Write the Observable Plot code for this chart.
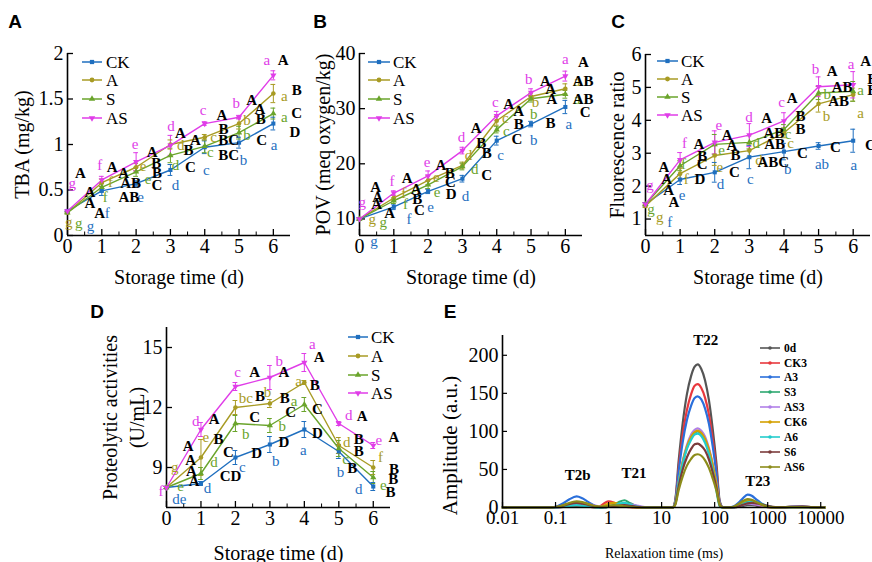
<!DOCTYPE html>
<html><head><meta charset="utf-8">
<script src="https://cdn.jsdelivr.net/npm/d3@7"></script>
<script src="https://cdn.jsdelivr.net/npm/@observablehq/plot@0.6"></script>
<style>
body{margin:0;background:#fff;}
#wrap{position:relative;width:872px;height:562px;overflow:hidden;background:#fff;}
.panel{position:absolute;}
.plab{position:absolute;font-family:"Liberation Sans",Arial,sans-serif;font-weight:bold;font-size:19px;transform:translate(-50%,-50%);}
svg{overflow:visible}
</style></head><body><div id="wrap"></div>
<script>
// ---------- shared ----------
const days = [0,1,2,3,4,5,6];
const keys = ["CK","A","S","AS"];
const colorOf = {CK:"#1f6fbf", A:"#a89b24", S:"#6aa42b", AS:"#e03de8"};
const symbolOf = {CK:"square", A:"circle", S:"triangle", AS:"triangle"};

// ---------- A: TBA ----------
const tbaCK = [0.27,0.49,0.57,0.72,0.97,1.02,1.23];
const tbaA  = [0.25,0.58,0.75,1.00,1.08,1.23,1.56];
const tbaS  = [0.25,0.53,0.70,0.88,0.98,1.13,1.34];
const tbaAS = [0.27,0.61,0.81,0.99,1.23,1.30,1.76];
const tbaErrCK = [0.01,0.05,0.03,0.06,0.07,0.06,0.07];
const tbaErrA  = [0.01,0.04,0.04,0.05,0.03,0.06,0.10];
const tbaErrS  = [0.01,0.04,0.05,0.08,0.07,0.07,0.06];
const tbaErrAS = [0.01,0.04,0.10,0.11,0.02,0.02,0.05];
const tbaTicks = [0,0.5,1,1.5,2];
const tbaLower = [
 ["AS",0.14,0.57,"g"],["AS",0.94,0.77,"f"],["AS",1.97,1.0,"e"],["AS",3.02,1.2,"d"],["AS",3.95,1.38,"c"],["AS",4.92,1.45,"b"],["AS",5.81,1.93,"a"],
 ["A",0.04,0.15,"g"],["A",1.25,0.59,"f"],["A",2.2,0.76,"e"],["A",3.3,0.99,"d"],["A",4.26,1.08,"c"],["A",5.23,1.27,"b"],["A",6.32,1.53,"a"],
 ["S",0.33,0.13,"g"],["S",1.1,0.42,"f"],["S",2.35,0.62,"e"],["S",3.15,0.77,"d"],["S",4.16,0.92,"c"],["S",5.23,1.1,"b"],["S",6.32,1.3,"a"],
 ["CK",0.67,0.1,"g"],["CK",1.16,0.24,"f"],["CK",2.13,0.42,"e"],["CK",3.15,0.55,"d"],["CK",4.05,0.72,"c"],["CK",5.13,0.83,"b"],["CK",6.02,0.99,"a"]
];
const tbaUpper = [
 [0.38,0.68,"A"],[0.65,0.48,"A"],[0.65,0.35,"A"],[0.94,0.24,"A"],[1.3,0.75,"A"],[1.64,0.68,"A"],[1.84,0.57,"AB"],[1.79,0.42,"AB"],
 [2.47,0.92,"A"],[2.59,0.79,"B"],[2.61,0.68,"B"],[2.61,0.55,"C"],[3.29,1.12,"A"],[3.73,1.05,"A"],[3.53,0.94,"B"],[3.58,0.75,"C"],
 [4.5,1.32,"A"],[4.55,1.17,"B"],[4.7,1.05,"BC"],[4.7,0.88,"BC"],[5.37,1.49,"A"],[5.61,1.39,"A"],[5.63,1.28,"B"],[5.66,1.05,"C"],
 [6.29,1.93,"A"],[6.68,1.6,"B"],[6.68,1.34,"C"],[6.63,1.14,"D"]
];

// ---------- B: POV ----------
const povCK = [10,12.2,15.0,17.3,24.2,27.2,30.3];
const povA  = [10,13.8,17.0,19.7,27.8,32.2,33.6];
const povS  = [10,13.3,16.2,19.5,26.2,31.8,32.6];
const povAS = [10,14.7,17.8,22.4,28.7,32.9,35.9];
const povErrCK = [0.2,0.5,0.4,0.6,0.8,0.5,1.2];
const povErrA  = [0.2,0.5,0.8,0.6,0.8,0.6,0.9];
const povErrS  = [0.2,0.5,0.7,0.6,0.6,0.6,0.7];
const povErrAS = [0.2,0.4,0.9,0.6,0.8,0.7,0.9];
const povTicks = [10,20,30,40];
const povLower = [
 ["AS",0.08,13.0,"g"],["AS",0.95,16.9,"f"],["AS",1.97,20.3,"e"],["AS",2.97,24.8,"d"],["AS",3.96,31.2,"c"],["AS",4.93,35.3,"b"],["AS",6.0,39.0,"a"],
 ["A",0.37,10,"g"],["A",1.29,14.6,"f"],["A",2.24,17.5,"e"],["A",3.18,21.5,"d"],["A",4.25,28.3,"c"],["A",5.13,31.1,"b"],["A",6.34,35,"a"],
 ["S",0.69,9.4,"g"],["S",1.34,12.7,"f"],["S",2.26,14.8,"e"],["S",3.36,19.1,"d"],["S",4.28,26,"c"],["S",5.08,29,"b"],["S",6.34,31.7,"a"],
 ["CK",0.42,6,"g"],["CK",1.44,10,"f"],["CK",2.07,12.2,"e"],["CK",3.09,14.2,"d"],["CK",4.11,21.6,"c"],["CK",5.08,24.2,"b"],["CK",6.1,27.1,"a"]
];
const povUpper = [
 [0.47,15.7,"A"],[0.53,13.9,"A"],[0.5,12.6,"A"],[0.88,11.0,"A"],[1.39,17.4,"A"],[1.65,15.4,"A"],[1.68,13.6,"B"],[1.75,11.5,"C"],
 [2.37,19.8,"A"],[2.63,18.3,"B"],[2.65,16.6,"C"],[2.67,14.5,"D"],[3.4,26.5,"A"],[3.55,23.7,"B"],[3.71,21.9,"B"],[3.71,18.0,"C"],
 [4.35,30.8,"A"],[4.64,29.6,"A"],[4.64,27.2,"B"],[4.59,24.5,"C"],[5.42,34.9,"A"],[5.57,33.5,"A"],[5.61,31.7,"A"],[5.57,27.3,"B"],
 [6.53,38.4,"A"],[6.52,35.0,"AB"],[6.52,31.8,"AB"],[6.58,29.3,"C"]
];

// ---------- C: Fluorescence ratio ----------
const frCK = [1.45,2.2,2.42,2.88,3.05,3.22,3.38];
const frA  = [1.4,2.38,2.93,3.08,3.62,4.5,4.78];
const frS  = [1.45,2.62,3.27,3.33,3.72,4.83,4.88];
const frAS = [1.45,2.8,3.33,3.55,3.98,5.02,5.08];
const frErrCK = [0.05,0.15,0.3,0.35,0.25,0.1,0.35];
const frErrA  = [0.05,0.15,0.3,0.2,0.15,0.25,0.2];
const frErrS  = [0.05,0.15,0.3,0.2,0.15,0.2,0.3];
const frErrAS = [0.05,0.22,0.35,0.35,0.25,0.3,0.4];
const frTicks = [1,2,3,4,5,6];
const frLower = [
 ["AS",0.13,2.02,"g"],["AS",1.13,3.32,"f"],["AS",2.12,3.86,"e"],["AS",2.99,4.11,"d"],["AS",3.93,4.54,"c"],["AS",4.91,5.54,"b"],["AS",5.94,5.72,"a"],
 ["A",0.41,1.07,"g"],["A",1.18,2.22,"f"],["A",2.15,2.58,"e"],["A",3.28,2.79,"d"],["A",4.19,3.3,"c"],["A",5.23,4.13,"b"],["A",6.21,4.21,"a"],
 ["S",0.16,1.3,"g"],["S",1.1,2.68,"f"],["S",2.2,3.09,"e"],["S",3.2,3.3,"d"],["S",4.12,3.58,"c"],["S",5.25,4.78,"b"],["S",6.21,4.91,"a"],
 ["CK",0.7,0.9,"f"],["CK",1.06,1.74,"e"],["CK",2.17,2.07,"d"],["CK",3.03,2.22,"c"],["CK",4.11,2.53,"b"],["CK",5.1,2.68,"ab"],["CK",6.02,2.63,"a"]
];
const frUpper = [
 [0.53,2.58,"A"],[0.61,2.22,"A"],[0.67,1.87,"A"],[0.82,1.51,"A"],[1.54,3.28,"A"],[1.64,2.91,"B"],[1.64,2.66,"C"],[1.57,2.22,"D"],
 [2.36,3.55,"A"],[2.5,3.24,"A"],[2.6,2.94,"B"],[2.57,2.43,"C"],[3.5,4.06,"A"],[3.71,3.6,"AB"],[3.73,3.28,"AB"],[3.69,2.73,"ABC"],
 [4.24,4.67,"A"],[4.48,4.13,"B"],[4.48,3.72,"B"],[4.53,2.99,"C"],[5.39,5.49,"A"],[5.68,5.01,"AB"],[5.58,4.57,"AB"],[5.49,3.19,"C"],
 [6.36,5.8,"A"],[6.55,5.26,"B"],[6.55,4.93,"B"],[6.5,3.24,"C"]
];

// ---------- D: Proteolytic activities ----------
const paCK = [8.0,8.2,9.5,10.15,10.9,9.8,8.05];
const paA  = [8.0,9.5,12.0,12.2,13.25,10.1,9.0];
const paS  = [8.0,8.7,11.2,11.1,12.15,9.95,8.5];
const paAS = [8.0,10.9,13.05,13.5,14.25,11.2,10.1];
const paErrCK = [0.05,0.1,0.35,0.4,0.4,0.35,0.2];
const paErrA  = [0.05,0.9,0.35,0.2,0.1,0.4,0.35];
const paErrS  = [0.05,0.3,0.4,0.35,0.35,0.4,0.3];
const paErrAS = [0.05,0.35,0.2,0.6,0.45,0.1,0.15];
const paTicks = [9,12,15];
const paLower = [
 ["AS",-0.16,7.83,"f"],["AS",0.85,11.3,"d"],["AS",2.06,13.75,"c"],["AS",3.27,14.3,"b"],["AS",4.23,15.17,"a"],["AS",5.29,11.63,"d"],["AS",6.16,10.37,"e"],
 ["A",0.24,9.03,"g"],["A",1.14,10.5,"e"],["A",2.3,12.45,"bc"],["A",2.93,12.75,"b"],["A",3.83,13.33,"a"],["A",5.23,10.25,"d"],["A",6.21,9.5,"f"],
 ["S",0.41,8.08,"e"],["S",1.38,9.25,"d"],["S",2.3,10.67,"b"],["S",3.36,11.08,"b"],["S",3.7,12.33,"a"],["S",5.2,9.42,"c"],["S",6.29,8.13,"e"],
 ["CK",0.37,7.42,"de"],["CK",1.19,7.97,"d"],["CK",2.2,9.0,"c"],["CK",3.17,9.33,"b"],["CK",3.97,9.87,"a"],["CK",5.05,8.75,"b"],["CK",5.58,7.92,"d"]
];
const paUpper = [
 [0.63,10.08,"A"],[0.7,9.37,"A"],[0.72,8.83,"A"],[0.8,8.3,"A"],[1.38,11.42,"A"],[1.51,10.42,"B"],[1.8,9.75,"C"],[1.86,8.58,"CD"],
 [2.56,13.75,"A"],[2.71,12.58,"B"],[2.56,11.5,"C"],[2.62,9.7,"D"],[3.41,13.75,"A"],[3.43,12.47,"B"],[3.6,11.75,"C"],[3.41,10.25,"D"],
 [4.43,14.5,"A"],[4.3,13.13,"B"],[4.38,11.92,"C"],[4.38,10.7,"D"],[5.68,11.58,"A"],[5.58,10.42,"B"],[5.58,9.8,"B"],[5.39,8.97,"B"],
 [6.6,10.5,"A"],[6.6,8.92,"B"],[6.58,8.42,"B"],[6.5,7.75,"B"]
];

// ---------- E: T2 relaxation ----------
const t2Time = [0.01,0.08,0.11,0.14,0.18,0.25,0.32,0.42,0.55,0.7,0.85,1.0,1.25,1.6,2.0,2.5,3.2,4.2,6,10,16,
  18,21,25,30,36,42,48,56,66,78,92,108,125,145,186,230,280,340,417,500,600,740,900,1100,1400,2000,3000,4500,7000,12000];
const t2Names = ["0d","CK3","A3","S3","AS3","CK6","A6","S6","AS6"];
const t2Colors = ["#555555","#e8383d","#2a6fdb","#2ca870","#b07fe8","#d4a000","#22cccc","#7b3b3b","#8c8c1a"];
const t2_0d  = [0,0, 0.3,0.8,1.3,1.8,1.5,1,0.5, 0.5, 0.8,1.2,1.8,2,1.8,1.2,0.6,0.2,0, 0,0, 9,62,111,149,173,185,188,182,167,141,103,58,8, 0,0, 0.2,1,2,3,3,2.5,1.5,0.8,0.3,0.2,0.5,1.2,1.5,0.5, 0];
const t2_CK3 = [0,0, 0.3,1,1.8,2.5,2,1.2,0.5, 2, 6,8,6.5,3,1,0.3,0,0,0, 0,0, 8,53,96,128,149,160,162,157,144,122,89,50,6, 0,0, 0.5,2.5,4.5,6,5.5,4,2.5,1.2,0.4,0.2,0.2,0.5,0.5,0.2, 0];
const t2_A3  = [0,0, 2,5.5,10.5,14.5,12,7,2.5, 0.5, 0.5,0.8,1.5,2.5,3.5,3.5,2,0.5,0, 0,0, 7,48,86,115,134,144,146,142,130,110,80,45,6, 0,0, 1.5,6,12,17,15.5,11,6,2.5,0.8,0.3,0.3,0.8,0.8,0.3, 0];
const t2_S3  = [0,0, 0.3,1,2,3,2.5,1.5,0.5, 0.2, 0.5,1,3,7.5,9.5,6,2.5,0.5,0, 0,0, 5,33,59,79,92,98,100,97,89,75,55,31,4, 0,0, 0.5,2.5,5.5,8,8.5,7,4.5,2.2,0.8,0.3,0.3,0.5,0.5,0.2, 0];
const t2_AS3 = [0,0, 0.5,1.5,3.5,5,5,4,2.5, 1.2, 0.8,1,1.8,2.8,3.8,4,3,1.2,0, 0,0, 5,34,61,82,96,102,104,101,93,78,57,32,4, 0,0, 0.5,2,3.5,5,4.8,4,2.8,1.5,0.5,0.2,0.3,0.8,0.8,0.3, 0];
const t2_CK6 = [0,0, 1,2.5,5,7,6,4,1.5, 1, 3,5,6,4.5,2.5,1,0.3,0,0, 0,0, 5,33,60,80,93,99,101,98,90,76,56,31,4, 0,0, 1,4,7.5,10,9.5,7,4,1.8,0.5,0.2,0.3,0.5,0.5,0.2, 0];
const t2_A6  = [0,0, 0.5,1.2,2.2,3,2.5,1.5,0.5, 0.2, 0.3,1,2.5,5,6,4,1.5,0.3,0, 0,0, 5,32,57,77,89,96,97,94,85,70,49,22,1, 0,0, 0.3,1.5,4,6.5,7.5,7,5,3,1.2,0.4,0.4,0.6,0.6,0.2, 0];
const t2_S6  = [0,0, 1,2.5,4.5,6,5,3.5,1.5, 0.5, 0.5,0.8,1.5,2.5,3,2.2,1.2,0.3,0, 0,0, 4,28,50,66,77,83,84,81,75,63,46,26,3, 0,0, 0.3,1.2,3.5,5.5,6,5.5,4.5,3,1.5,0.6,0.5,1,1.2,0.4, 0];
const t2_AS6 = [0,0, 1,3,6,8,7,4.5,2, 0.8, 1.5,2.5,3,2.5,1.5,0.8,0.3,0,0, 0,0, 3,23,41,55,64,69,70,68,62,52,38,22,3, 0,0, 1,4.5,8.5,11,10,7.5,4.5,2,0.6,0.2,0.3,0.5,0.5,0.2, 0];
const t2Series = [t2_0d,t2_CK3,t2_A3,t2_S3,t2_AS3,t2_CK6,t2_A6,t2_S6,t2_AS6];
const t2Ticks = [0.01,0.1,1,10,100,1000,10000];
const ampTicks = [0,50,100,150,200];
const t2PeakLabels = [[0.26,42,"T2b"],[3.0,45,"T21"],[68,220,"T22"],[650,34.6,"T23"]];

// ---------- drawing ----------
const wrap = document.getElementById("wrap");
const FONT = "Liberation Serif, Times New Roman, Times, serif";

function place(el, left, top) {
  const d = document.createElement("div");
  d.className = "panel"; d.style.left = left + "px"; d.style.top = top + "px";
  d.appendChild(el); wrap.appendChild(d);
}

function linePanel(o) {
  const innerW = o.width - o.ml - o.mr, innerH = o.height - o.mt - o.mb;
  const rows = [];
  keys.forEach(k => o.vals[k].forEach((v, i) => rows.push({k, x: days[i], y: v, e: o.errs[k][i]})));
  const half = days.slice(0, -1).map(d => d + 0.5);
  const col = d => colorOf[d.k];
  const marks = [
    Plot.ruleX([0], {strokeWidth: 1.6}),
    Plot.ruleY([o.yDomain[0]], {strokeWidth: 1.6}),
    Plot.tickX(days, {x: d => d, insetTop: innerH - 6, strokeWidth: 1.3}),
    Plot.tickX(half, {x: d => d, insetTop: innerH - 3.5}),
    Plot.tickY(o.yTicks, {y: d => d, insetRight: innerW - 6, strokeWidth: 1.3}),
    Plot.axisX({ticks: days, tickSize: 0, tickPadding: 3, fontSize: 20, tickFormat: d => String(d), label: null}),
    Plot.axisY({ticks: o.yTicks, tickSize: 0, tickPadding: 4, fontSize: 20, tickFormat: d => String(d), label: null}),
    Plot.text([o.yTitle], {text: d => d, frameAnchor: "left", textAnchor: "middle", lineAnchor: "middle", rotate: -90, dx: o.ytDx, dy: o.ytDy || 0, fontSize: 20, lineHeight: o.lh || 1}),
    Plot.text(["Storage time (d)"], {text: d => d, frameAnchor: "bottom", textAnchor: "middle", lineAnchor: "middle", dy: o.xtDy, fontSize: 20}),
    Plot.ruleX(rows, {x: "x", y1: d => d.y - d.e, y2: d => d.y + d.e, stroke: col, strokeWidth: 1}),
    Plot.ruleY(rows, {y: d => d.y + d.e, x1: d => d.x - 0.07, x2: d => d.x + 0.07, stroke: col, strokeWidth: 1}),
    Plot.ruleY(rows, {y: d => d.y - d.e, x1: d => d.x - 0.07, x2: d => d.x + 0.07, stroke: col, strokeWidth: 1}),
    Plot.line(rows, {x: "x", y: "y", z: "k", stroke: col, strokeWidth: 1.4}),
    ...keys.map(k => Plot.dot(rows.filter(r => r.k === k), {x: "x", y: "y", symbol: symbolOf[k], fill: colorOf[k], r: 2.3, rotate: k === "AS" ? 180 : 0})),
    Plot.text(o.lower, {x: d => d[1], y: d => d[2], text: d => d[3], fill: d => colorOf[d[0]], fontSize: 15}),
    Plot.text(o.upper, {x: d => d[0], y: d => d[1], text: d => d[2], fill: "black", fontWeight: "bold", fontSize: 15})
  ];
  const svg = Plot.plot({
    width: o.width, height: o.height, marginLeft: o.ml, marginRight: o.mr, marginTop: o.mt, marginBottom: o.mb,
    x: {domain: [0, 6.5]}, y: {domain: o.yDomain},
    color: {type: "identity"},
    style: {fontFamily: FONT, fontSize: "16px", background: "transparent", overflow: "visible", color: "black", maxWidth: "none"},
    marks
  });
  place(svg, o.left, o.top);
}

linePanel({left: 0, top: 0, width: 300, height: 290, ml: 67, mr: 10, mt: 53, mb: 55,
  yDomain: [0, 2], yTicks: tbaTicks, yTitle: "TBA (mg/kg)", ytDx: -45, xtDy: 42,
  vals: {CK: tbaCK, A: tbaA, S: tbaS, AS: tbaAS}, errs: {CK: tbaErrCK, A: tbaErrA, S: tbaErrS, AS: tbaErrAS},
  lower: tbaLower, upper: tbaUpper});
linePanel({left: 290, top: 0, width: 300, height: 290, ml: 69, mr: 8, mt: 53, mb: 55,
  yDomain: [7, 40], yTicks: povTicks, yTitle: "POV (meq oxygen/kg)", ytDx: -36, xtDy: 42,
  vals: {CK: povCK, A: povA, S: povS, AS: povAS}, errs: {CK: povErrCK, A: povErrA, S: povErrS, AS: povErrAS},
  lower: povLower, upper: povUpper});
linePanel({left: 580, top: 0, width: 292, height: 290, ml: 65, mr: 2, mt: 54, mb: 55,
  yDomain: [0.5, 6], yTicks: frTicks, yTitle: "Fluorescence ratio", ytDx: -28, xtDy: 42,
  vals: {CK: frCK, A: frA, S: frS, AS: frAS}, errs: {CK: frErrCK, A: frErrA, S: frErrS, AS: frErrAS},
  lower: frLower, upper: frUpper});
linePanel({left: 0, top: 290, width: 430, height: 272, ml: 166, mr: 40, mt: 37, mb: 55,
  yDomain: [7, 16], yTicks: paTicks, yTitle: "Proteolytic activities\n(U/mL)", ytDx: -45, lh: 1.35, xtDy: 46,
  vals: {CK: paCK, A: paA, S: paS, AS: paAS}, errs: {CK: paErrCK, A: paErrA, S: paErrS, AS: paErrAS},
  lower: paLower, upper: paUpper});

// Panel E
(function () {
  const W = 442, H = 272, ml = 72, mr = 47, mt = 45, mb = 55;
  const innerW = W - ml - mr, innerH = H - mt - mb;
  const rows = [];
  t2Names.forEach((n, s) => t2Series[s].forEach((v, i) => rows.push({n, c: t2Colors[s], x: t2Time[i], y: v})));
  const svg = Plot.plot({
    width: W, height: H, marginLeft: ml, marginRight: mr, marginTop: mt, marginBottom: mb,
    x: {type: "log", domain: [0.01, 12300]}, y: {domain: [0, 226]},
    color: {type: "identity"},
    style: {fontFamily: FONT, fontSize: "16px", background: "transparent", overflow: "visible", color: "black", maxWidth: "none"},
    marks: [
      Plot.line(rows, {x: "x", y: "y", z: "n", stroke: "c", strokeWidth: 2.2, curve: "monotone-x"}),
      Plot.ruleX([0.01], {strokeWidth: 1.6}),
      Plot.ruleY([0], {strokeWidth: 1.6}),
      Plot.tickX(t2Ticks, {x: d => d, insetTop: innerH - 5, strokeWidth: 1.2}),
      Plot.tickY(ampTicks, {y: d => d, insetRight: innerW - 5, strokeWidth: 1.2}),
      Plot.axisX({ticks: t2Ticks, tickSize: 0, tickPadding: 3, fontSize: 19, tickFormat: d => String(d), label: null}),
      Plot.axisY({ticks: ampTicks, tickSize: 0, tickPadding: 4, fontSize: 20, tickFormat: d => String(d), label: null}),
      Plot.text(["Amplitude (a.u.)"], {text: d => d, frameAnchor: "left", textAnchor: "middle", lineAnchor: "middle", rotate: -90, dx: -52, dy: 24, fontSize: 21}),
      Plot.text(["Relaxation time (ms)"], {text: d => d, frameAnchor: "bottom", textAnchor: "middle", lineAnchor: "middle", dy: 46, fontSize: 14}),
      Plot.text(t2PeakLabels, {x: d => d[0], y: d => d[1], text: d => d[2], fontWeight: "bold", fontSize: 15})
    ]
  });
  place(svg, 430, 290);
})();

// ---------- legends (overlay) ----------
const ov = d3.select(wrap).append("svg").attr("width", 872).attr("height", 562)
  .style("position", "absolute").style("left", 0).style("top", 0).style("pointer-events", "none");
const symType = {CK: d3.symbolSquare, A: d3.symbolCircle, S: d3.symbolTriangle, AS: d3.symbolTriangle};
function legend4(x0, x1, tx, ys) {
  keys.forEach((k, i) => {
    const g = ov.append("g");
    g.append("line").attr("x1", x0).attr("x2", x1).attr("y1", ys[i]).attr("y2", ys[i]).attr("stroke", colorOf[k]).attr("stroke-width", 1.5);
    g.append("path").attr("d", d3.symbol().type(symType[k]).size(18)())
      .attr("transform", `translate(${(x0 + x1) / 2},${ys[i]}) rotate(${k === "AS" ? 180 : 0})`).attr("fill", colorOf[k]);
    g.append("text").attr("x", tx).attr("y", ys[i]).attr("dy", "0.35em").attr("font-family", FONT).attr("font-size", 17).text(k);
  });
}
legend4(82, 102, 106, [62, 80, 99, 118]);
legend4(368, 390, 393, [62, 80, 99, 118]);
legend4(657, 678, 681, [61, 79, 97, 115]);
legend4(348, 368, 371, [337, 356, 375, 393]);
const eYs = [348, 363, 377, 392, 407, 422, 437, 452, 467];
t2Names.forEach((n, i) => {
  ov.append("line").attr("x1", 760).attr("x2", 780).attr("y1", eYs[i]).attr("y2", eYs[i]).attr("stroke", t2Colors[i]).attr("stroke-width", 1.6);
  ov.append("circle").attr("cx", 770).attr("cy", eYs[i]).attr("r", 1.8).attr("fill", t2Colors[i]);
  ov.append("text").attr("x", 784).attr("y", eYs[i]).attr("dy", "0.35em").attr("font-family", FONT)
    .attr("font-weight", "bold").attr("font-size", 11.5).text(n);
});

// panel letters
[["A", 15, 22], ["B", 320, 22], ["C", 618, 22], ["D", 97, 312], ["E", 450, 312]].forEach(([t, x, y]) => {
  const d = document.createElement("div"); d.className = "plab";
  d.style.left = x + "px"; d.style.top = y + "px"; d.textContent = t; wrap.appendChild(d);
});
</script></body></html>
